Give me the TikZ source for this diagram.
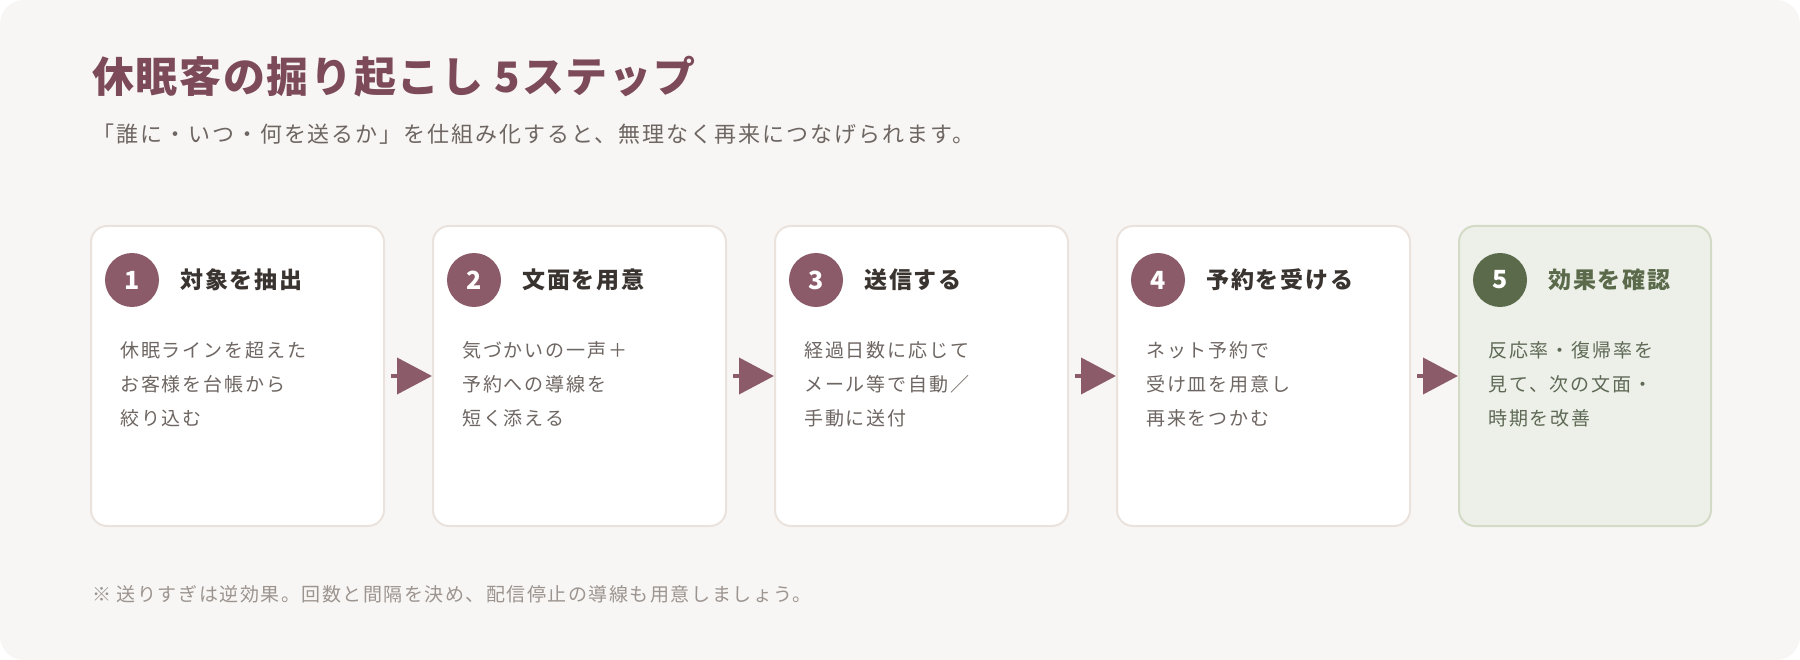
\documentclass[tikz,border=0pt]{standalone}
\usepackage{fontspec}
\setmainfont{Noto Sans CJK JP}
\usepackage{xcolor}
\usetikzlibrary{arrows.meta,positioning}
\definecolor{pagebg}{HTML}{F8F6F4}
\definecolor{mauve}{HTML}{8B5B69}
\definecolor{headmauve}{HTML}{7C4A59}
\definecolor{cardline}{HTML}{EAE3DD}
\definecolor{darktext}{HTML}{3A3431}
\definecolor{bodytext}{HTML}{6E6662}
\definecolor{notetext}{HTML}{9C948F}
\definecolor{sage}{HTML}{5B6A4B}
\definecolor{sagesoft}{HTML}{EDF0E8}
\definecolor{sageline}{HTML}{D3DBC6}
\definecolor{sagetext}{HTML}{5E6956}
\tikzset{
  card/.style={draw=cardline,fill=white,line width=2pt,rounded corners=16pt,anchor=north west,minimum height=300pt,inner sep=0pt},
  cardlast/.style={card,draw=sageline,fill=sagesoft},
  numdot/.style={circle,fill=mauve,text=white,minimum size=54pt,inner sep=0pt,font=\fontsize{25}{25}\selectfont\bfseries},
  steptitle/.style={anchor=west,inner sep=0pt,text=darktext,font=\fontsize{23}{23}\selectfont\bfseries\addfontfeature{LetterSpace=8}},
  stepbody/.style={anchor=north west,inner sep=0pt,align=left,text=bodytext,font=\fontsize{19}{34}\selectfont\addfontfeature{LetterSpace=10}},
  flowarr/.style={-{Triangle[length={35pt 0},width={36pt 0}]},line width=4pt,draw=mauve}
}
\begin{document}
\begin{tikzpicture}[x=1pt,y=-1pt]
  \useasboundingbox (0,0) rectangle (1800,660);
  \fill[white] (0,0) rectangle (1800,660);
  \fill[pagebg,rounded corners=24pt] (0,0) rectangle (1800,660);
  % heading
  \node[anchor=west,inner sep=0pt,text=headmauve,font=\fontsize{42}{42}\selectfont\bfseries\addfontfeature{LetterSpace=4}] (head) at (92,77) {休眠客の掘り起こし 5ステップ};
  \node[anchor=west,inner sep=0pt,text=bodytext,font=\fontsize{22}{22}\selectfont\addfontfeature{LetterSpace=9}] (sub) at (92,134) {「誰に・いつ・何を送るか」を仕組み化すると、無理なく再来につなげられます。};
  % cards
  \node[card,minimum width=293pt] (c1) at (90,225) {};
  \node[card,minimum width=293pt] (c2) at (432,225) {};
  \node[card,minimum width=293pt] (c3) at (774,225) {};
  \node[card,minimum width=293pt] (c4) at (1116,225) {};
  \node[cardlast,minimum width=252pt] (c5) at (1458,225) {};
  % step 1
  \node[numdot] (n1) at (132,280) {1};
  \node[steptitle] (t1) at (180,280) {対象を抽出};
  \node[stepbody] (b1) at (120,341) {休眠ラインを超えた\\お客様を台帳から\\絞り込む};
  % step 2
  \node[numdot] (n2) at (474,280) {2};
  \node[steptitle] (t2) at (522,280) {文面を用意};
  \node[stepbody] (b2) at (462,341) {気づかいの一声＋\\予約への導線を\\短く添える};
  % step 3
  \node[numdot] (n3) at (816,280) {3};
  \node[steptitle] (t3) at (864,280) {送信する};
  \node[stepbody] (b3) at (804,341) {経過日数に応じて\\メール等で自動／\\手動に送付};
  % step 4
  \node[numdot] (n4) at (1158,280) {4};
  \node[steptitle] (t4) at (1206,280) {予約を受ける};
  \node[stepbody] (b4) at (1146,341) {ネット予約で\\受け皿を用意し\\再来をつかむ};
  % step 5
  \node[numdot,fill=sage] (n5) at (1500,280) {5};
  \node[steptitle,text=sage] (t5) at (1548,280) {効果を確認};
  \node[stepbody,text=sagetext] (b5) at (1488,341) {反応率・復帰率を\\見て、次の文面・\\時期を改善};
  \foreach \a/\b in {c1/c2,c2/c3,c3/c4,c4/c5}{\draw[flowarr] ([xshift=6pt]\a.east) -- (\b.west);}
  % note
  \node[anchor=west,inner sep=0pt,text=notetext,font=\fontsize{19}{19}\selectfont\addfontfeature{LetterSpace=8}] (note) at (92,594) {※ 送りすぎは逆効果。回数と間隔を決め、配信停止の導線も用意しましょう。};
\end{tikzpicture}
\end{document}
